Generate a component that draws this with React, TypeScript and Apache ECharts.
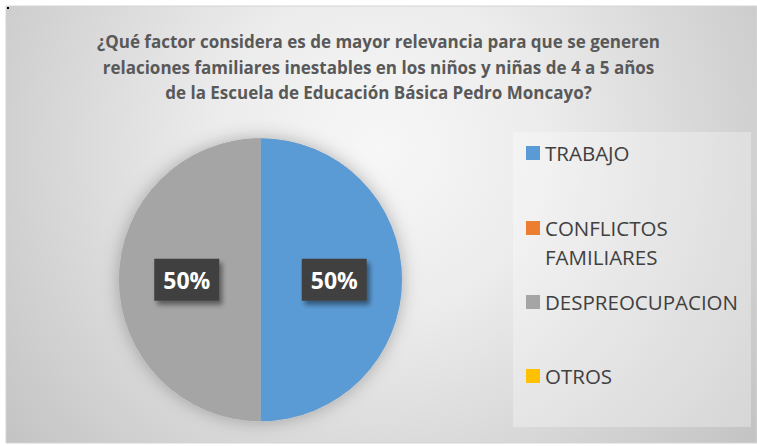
import React, { useEffect, useRef } from "react";
import * as echarts from "echarts";

const TITLE_LINES = [
  "¿Qué factor considera es de mayor relevancia para que se generen",
  "relaciones familiares inestables en los niños y niñas de 4 a 5 años",
  "de la Escuela de Educación Básica Pedro Moncayo?",
];
const categories = ["TRABAJO", "CONFLICTOS FAMILIARES", "DESPREOCUPACION", "OTROS"];
const values = [50, 0, 50, 0];
const colors = ["#5B9BD5", "#ED7D31", "#A5A5A5", "#FFC000"];
const legendCenters = [153, 228, 302, 376];

const FONT = "'Open Sans', 'Noto Sans', sans-serif";

export default function App() {
  const ref = useRef<HTMLDivElement>(null);
  useEffect(() => {
    if (!ref.current) return;
    const chart = echarts.init(ref.current, undefined, { renderer: "svg" });
    const L = 29;
    const legends = categories.map((name, i) => {
      const multi = name === "CONFLICTOS FAMILIARES";
      return {
        data: [name],
        orient: "vertical",
        left: 526,
        top: multi ? legendCenters[i] - 1.5 * L : legendCenters[i] - L / 2,
        padding: 0,
        itemWidth: 14,
        itemHeight: 14,
        icon: "rect",
        selectedMode: false,
        formatter: (n: string) =>
          n === "CONFLICTOS FAMILIARES" ? "\u00a0\nCONFLICTOS\nFAMILIARES" : n,
        textStyle: { fontFamily: FONT, fontSize: 20.5, color: "#404040", lineHeight: L },
      };
    });
    chart.setOption({
      animation: false,
      graphic: [
        {
          type: "rect",
          z: -10,
          silent: true,
          shape: { x: 6, y: 6, width: 751, height: 437 },
          style: {
            fill: {
              type: "radial",
              x: 380,
              y: 150,
              r: 470,
              global: true,
              colorStops: [
                { offset: 0, color: "#f7f7f7" },
                { offset: 0.35, color: "#ececec" },
                { offset: 1, color: "#c4c4c4" },
              ],
            },
            stroke: "#d4d4d4",
            lineWidth: 1,
          },
        },
        {
          type: "rect",
          z: -9,
          silent: true,
          shape: { x: 7, y: 7, width: 2, height: 2 },
          style: { fill: "#000" },
        },
        {
          type: "rect",
          z: -8,
          silent: true,
          shape: { x: 513, y: 132, width: 238, height: 295 },
          style: { fill: "rgba(255,255,255,0.3)" },
        },
      ],
      title: {
        text: TITLE_LINES.join("\n"),
        left: "center",
        top: 29,
        padding: [0, 7, 0, 0],
        textStyle: {
          fontFamily: FONT,
          fontWeight: "bold",
          fontSize: 17,
          color: "#595959",
          lineHeight: 25.5,
        },
      },
      legend: legends,
      series: [
        {
          type: "pie",
          name: "shadow",
          silent: true,
          center: [260.5, 279.7],
          radius: 141.5,
          z: 1,
          label: { show: false },
          labelLine: { show: false },
          data: [{ value: 1, name: "__shadow" }],
          itemStyle: {
            color: "#bbbbbb",
            shadowBlur: 18,
            shadowColor: "rgba(0,0,0,0.28)",
          },
        },
        {
          type: "pie",
          name: "factor",
          center: [260.5, 279.7],
          radius: 141.5,
          startAngle: 90,
          clockwise: true,
          z: 2,
          silent: true,
          itemStyle: { borderWidth: 0 },
          labelLine: { show: false },
          label: {
            show: true,
            position: "inside",
            formatter: "{d}%",
            fontFamily: FONT,
            fontWeight: "bold",
            fontSize: 23,
            color: "#ffffff",
            lineHeight: 24,
            backgroundColor: "#404040",
            padding: [9, 9, 9, 9],
            shadowBlur: 5,
            shadowOffsetX: 3,
            shadowOffsetY: 4,
            shadowColor: "rgba(0,0,0,0.45)",
          },
          data: categories.map((name, i) => ({
            name,
            value: values[i],
            itemStyle: { color: colors[i] },
            label: { show: values[i] > 0 },
          })),
        },
      ],
    });
    return () => chart.dispose();
  }, []);
  return (
    <div
      ref={ref}
      style={{ position: "fixed", left: 0, top: 0, width: 757, height: 446, background: "#ffffff" }}
    />
  );
}
